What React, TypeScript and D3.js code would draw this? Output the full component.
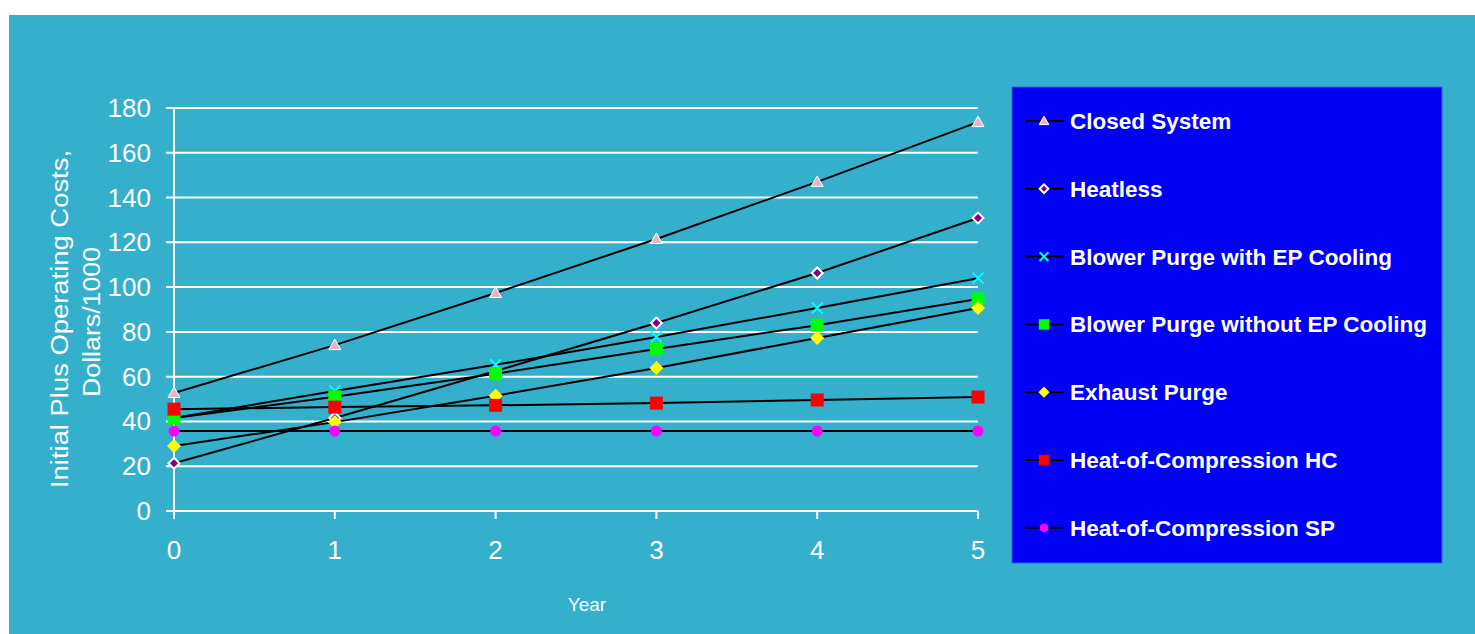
import React from "react";
import * as d3 from "d3";

const years = [0, 1, 2, 3, 4, 5];
const yTicks = [0, 20, 40, 60, 80, 100, 120, 140, 160, 180];

const closedSystem = [52.7, 74.1, 97.4, 121.5, 147, 173.7];
const heatless = [21.3, 41.5, 62.5, 84, 106.3, 130.9];
const blowerWithEP = [41.5, 53.6, 65.3, 77.7, 90.7, 104];
const blowerWithoutEP = [41.5, 51, 61.3, 72.4, 83, 94.7];
const exhaustPurge = [29, 39.7, 51.5, 63.9, 77.3, 90.7];
const hocHC = [45.5, 46.4, 47.2, 48.2, 49.6, 50.9];
const hocSP = [35.7, 35.7, 35.7, 35.7, 35.7, 35.7];

const seriesNames = [
  "Closed System",
  "Heatless",
  "Blower Purge with EP Cooling",
  "Blower Purge without EP Cooling",
  "Exhaust Purge",
  "Heat-of-Compression HC",
  "Heat-of-Compression SP",
];
const seriesValues = [closedSystem, heatless, blowerWithEP, blowerWithoutEP, exhaustPurge, hocHC, hocSP];
const markerTypes = ["triangle", "diamondPurple", "x", "square", "diamond", "square", "circle"];
const markerColors = ["#e8b4c8", "#800080", "#00ffff", "#00ff00", "#ffff00", "#ff0000", "#ff00ff"];

const FONT = "'Liberation Sans', Arial, sans-serif";

function Marker({ type, color, x, y, s = 1 }: { type: string; color: string; x: number; y: number; s?: number }) {
  if (type === "triangle") {
    const r = 6 * s;
    return <path d={`M${x},${y - r} L${x + r},${y + r * 0.75} L${x - r},${y + r * 0.75} Z`} fill={color} stroke="#fff" strokeWidth={1} />;
  }
  if (type === "diamondPurple") {
    const r = 5.5 * s;
    return <path d={`M${x},${y - r} L${x + r},${y} L${x},${y + r} L${x - r},${y} Z`} fill={color} stroke="#fff" strokeWidth={2} />;
  }
  if (type === "diamond") {
    const r = 7 * s;
    return <path d={`M${x},${y - r} L${x + r},${y} L${x},${y + r} L${x - r},${y} Z`} fill={color} />;
  }
  if (type === "x") {
    const r = 5.5 * s;
    return <path d={`M${x - r},${y - r} L${x + r},${y + r} M${x - r},${y + r} L${x + r},${y - r}`} stroke={color} strokeWidth={2} />;
  }
  if (type === "square") {
    const r = 6.5 * s;
    return <rect x={x - r} y={y - r} width={2 * r} height={2 * r} fill={color} />;
  }
  const r = 5.5 * s;
  return <circle cx={x} cy={y} r={r} fill={color} />;
}

export default function App() {
  const W = 1475, H = 634;
  const x = d3.scaleLinear().domain([0, 5]).range([174, 978]);
  const y = d3.scaleLinear().domain([0, 180]).range([511, 108]);
  const line = d3.line<number>().x((_, i) => x(years[i])).y((d) => y(d));

  const legendX = 1012, legendY = 87, legendW = 430, legendH = 476;
  const legendRowY = (i: number) => 121 + i * 67.8;

  return (
    <svg width={W} height={H} style={{ position: "absolute", left: 0, top: 0 }} fontFamily={FONT}>
      <rect x={0} y={0} width={W} height={H} fill="#ffffff" />
      <rect x={9} y={15} width={W - 9} height={H - 15} fill="#35b0cc" />

      {/* gridlines */}
      {yTicks.map((t) => (
        <line key={t} x1={166} x2={978} y1={y(t)} y2={y(t)} stroke="#ffffff" strokeWidth={2} />
      ))}
      {/* y axis */}
      <line x1={174} x2={174} y1={y(180)} y2={y(0) + 8} stroke="#ffffff" strokeWidth={2} />
      {/* x ticks */}
      {years.map((yr) => (
        <line key={yr} x1={x(yr)} x2={x(yr)} y1={y(0)} y2={y(0) + 8} stroke="#ffffff" strokeWidth={2} />
      ))}
      {/* y labels */}
      {yTicks.map((t) => (
        <text key={t} x={151} y={y(t) + 9} fill="#ffffff" fontSize={26} textAnchor="end">
          {t}
        </text>
      ))}
      {/* x labels */}
      {years.map((yr) => (
        <text key={yr} x={x(yr)} y={559} fill="#ffffff" fontSize={26} textAnchor="middle">
          {yr}
        </text>
      ))}
      <text x={587} y={611} fill="#ffffff" fontSize={19} textAnchor="middle">Year</text>
      <text
        transform="translate(68,319) rotate(-90)"
        fill="#ffffff"
        fontSize={23}
        textAnchor="middle"
        textLength={338}
        lengthAdjust="spacingAndGlyphs"
      >
        Initial Plus Operating Costs,
      </text>
      <text
        transform="translate(100,322) rotate(-90)"
        fill="#ffffff"
        fontSize={23}
        textAnchor="middle"
        textLength={150}
        lengthAdjust="spacingAndGlyphs"
      >
        Dollars/1000
      </text>

      {/* lines */}
      {seriesValues.map((vals, si) => (
        <path key={si} d={line(vals) || ""} fill="none" stroke="#000000" strokeWidth={2} />
      ))}
      {/* markers, later series drawn on top */}
      {seriesValues.map((vals, si) =>
        vals.map((v, i) => (
          <Marker key={`${si}-${i}`} type={markerTypes[si]} color={markerColors[si]} x={x(years[i])} y={y(v)} />
        ))
      )}

      {/* legend */}
      <rect x={legendX} y={legendY} width={legendW} height={legendH} fill="#0000f5" stroke="#3a5cf0" strokeWidth={1} />
      {seriesNames.map((name, i) => (
        <g key={name}>
          <line x1={1025} x2={1064} y1={legendRowY(i)} y2={legendRowY(i)} stroke="#000000" strokeWidth={2} />
          <Marker type={markerTypes[i]} color={markerColors[i]} x={1044} y={legendRowY(i)} s={0.8} />
          <text x={1070} y={legendRowY(i) + 8} fill="#ffffff" fontSize={22.5} fontWeight="bold">
            {name}
          </text>
        </g>
      ))}
    </svg>
  );
}
